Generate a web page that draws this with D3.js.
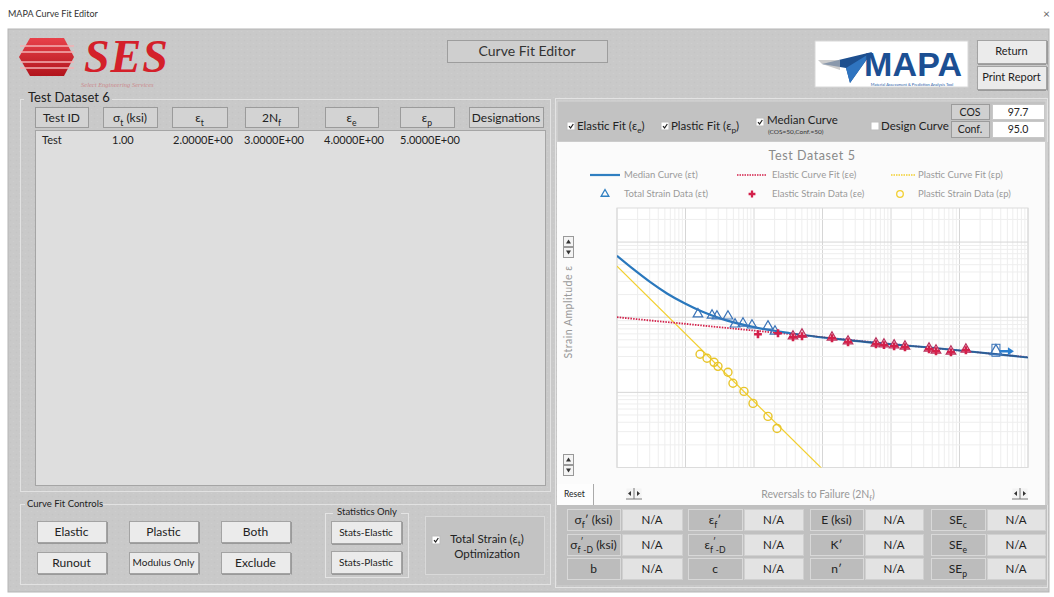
<!DOCTYPE html>
<html><head><meta charset="utf-8">
<script src="https://cdn.jsdelivr.net/npm/d3@7"></script>
<style>html,body{margin:0;padding:0;background:#fff;overflow:hidden}svg{display:block}</style>
</head><body>
<script>
// ---------- DATA ----------
const windowTitle = "MAPA Curve Fit Editor";
const chartTitle = "Test Dataset 5";
const tableTitle = "Test Dataset 6";
const tableHeaders = [["Test ID"],["σ",["t","sub"]," (ksi)"],["ε",["t","sub"]],["2N",["f","sub"]],["ε",["e","sub"]],["ε",["p","sub"]],["Designations"]];
const tableRow = ["Test","1.00","2.0000E+00","3.0000E+00","4.0000E+00","5.0000E+00",""];
// total strain data (triangles)
const totalX = [152,244,288,417,528,691,935,1600,2026,3710,5020,13760,23600,60400,79000,111000,160000,359000,454000,750000,1240000];
const totalY = [1.10e-3,1.06e-3,1.03e-3,1.03e-3,8.07e-4,8.3e-4,7.82e-4,7.59e-4,6.5e-4,5.58e-4,5.93e-4,5.41e-4,4.79e-4,4.5e-4,4.37e-4,4.24e-4,4.1e-4,3.86e-4,3.63e-4,3.52e-4,3.74e-4];
// elastic strain data (plus)
const elasticX = [1143,2240,3710,5020,13760,23600,60400,79000,111000,160000,359000,454000,750000,1240000];
const elasticY = [5.93e-4,6.12e-4,5.41e-4,5.58e-4,5.25e-4,4.64e-4,4.37e-4,4.24e-4,4.1e-4,3.98e-4,3.74e-4,3.52e-4,3.41e-4,3.63e-4];
// plastic strain data (circles)
const plasticX = [163,206,261,298,417,493,714,967,1600,2168];
const plasticY = [3.21e-4,2.84e-4,2.51e-4,2.22e-4,1.85e-4,1.32e-4,1.03e-4,7.13e-5,4.79e-5,3.31e-5];
// runout
const runoutX = [3.52e6];
const runoutY = [3.52e-4];
// fitted curves
const medianX = [10,17.7,30.3,53.7,98.4,174,319,1000,3356,25200,726000,1e7];
const medianY = [6.56e-3,4.29e-3,2.95e-3,2.07e-3,1.52e-3,1.19e-3,9.66e-4,7.38e-4,6.12e-4,4.91e-4,3.72e-4,2.91e-4];
const elasticFitX = [10,1e7];
const elasticFitY = [1.0e-3,2.93e-4];
const plasticFitX = [10,1e4];
const plasticFitY = [4.79e-3,9.5e-6];
// parameter table
const paramLabels = [
  [["σ"],["f","sub"],["′"]," (ksi)"],
  [["ε"],["f","sub"],["′"]],
  ["E (ksi)"],
  ["SE",["c","sub"]],
  [["σ"],["f","sub"],["′","sup"],["-D","sub"]," (ksi)"],
  [["ε"],["f","sub"],["′","sup"],["-D","sub"]],
  ["K′"],
  ["SE",["e","sub"]],
  ["b"],["c"],["n′"],["SE",["p","sub"]]
];
const paramValues = ["N/A","N/A","N/A","N/A","N/A","N/A","N/A","N/A","N/A","N/A","N/A","N/A"];
const controlButtons = [["Elastic","Plastic","Both"],["Runout","Modulus Only","Exclude"]];
const statsButtons = ["Stats-Elastic","Stats-Plastic"];
const cosValue = "97.7", confValue = "95.0";

// ---------- HELPERS ----------
const FONT = "Lato, 'Open Sans', sans-serif";
const svg = d3.select("body").append("svg").attr("width",1054).attr("height",597)
  .style("font-family",FONT);

function rich(g, parts, x, y, size, color, anchor){
  const t = g.append("text").attr("x",x).attr("y",y).attr("font-size",size)
    .attr("fill",color||"#222").attr("text-anchor",anchor||"start");
  let shift = 0;
  parts.forEach(p=>{
    let txt, kind=null;
    if (Array.isArray(p)) { txt=p[0]; kind=p[1]||null; } else txt=p;
    const ts = t.append("tspan").text(txt);
    let target = 0, fs = size;
    if (kind==="sub"){ target = size*0.3; fs=size*0.72; }
    if (kind==="sup"){ target = -size*0.35; fs=size*0.72; }
    ts.attr("dy", target-shift).attr("font-size",fs);
    shift = target;
  });
  return t;
}
function box(g,x,y,w,h,fill,stroke,sw){
  return g.append("rect").attr("x",x).attr("y",y).attr("width",w).attr("height",h)
    .attr("fill",fill).attr("stroke",stroke||"none").attr("stroke-width",sw||1);
}
function button(g,x,y,w,h,label,size,fill){
  box(g,x+0.5,y+0.5,w,h,fill||"#ebebeb","#a3a3a3");
  g.append("line").attr("x1",x+1).attr("x2",x+w).attr("y1",y+h+1.5).attr("y2",y+h+1.5).attr("stroke","#9a9a9a");
  g.append("line").attr("x1",x+w+1.5).attr("x2",x+w+1.5).attr("y1",y+1).attr("y2",y+h+1.5).attr("stroke","#9a9a9a");
  g.append("text").attr("x",x+w/2).attr("y",y+h/2+size*0.36).attr("text-anchor","middle")
    .attr("font-size",size).attr("fill","#222").text(label);
}
function checkbox(g,x,y,checked){
  box(g,x,y,8,8,"#fff","#bdbdbd");
  if (checked) g.append("path").attr("d",`M${x+2},${y+4.2} L${x+3.6},${y+6} L${x+6.3},${y+2}`)
    .attr("fill","none").attr("stroke","#222").attr("stroke-width",1.2);
}

// ---------- WINDOW ----------
svg.append("text").attr("x",8).attr("y",17).attr("font-size",9).attr("fill","#333").text(windowTitle);
svg.append("text").attr("x",1043).attr("y",18).attr("font-size",12).attr("fill","#666").text("×");

// textured gray panel
const defs = svg.append("defs");
const pat = defs.append("pattern").attr("id","tex").attr("width",6).attr("height",6).attr("patternUnits","userSpaceOnUse");
pat.append("rect").attr("width",6).attr("height",6).attr("fill","#c9c9c9");
pat.append("circle").attr("cx",1.5).attr("cy",1.5).attr("r",0.8).attr("fill","#cecece");
pat.append("circle").attr("cx",4.5).attr("cy",4.5).attr("r",0.8).attr("fill","#c4c4c4");
box(svg,8,29,1041,563,"url(#tex)","#b5b5b5");

// ---------- SES LOGO ----------
const logo = svg.append("g");
const hex = [[30,38],[64,38],[74,57],[64,76],[30,76],[19,57]];
const rg = defs.append("linearGradient").attr("id","redg").attr("x1",0).attr("y1",0).attr("x2",0).attr("y2",1);
rg.append("stop").attr("offset","0").attr("stop-color","#e8414a");
rg.append("stop").attr("offset","1").attr("stop-color","#b1141c");
logo.append("path").attr("d","M"+hex.map(p=>p.join(",")).join("L")+"Z").attr("fill","url(#redg)");
[46,52,62,68].forEach(yy=>logo.append("line").attr("x1",20).attr("x2",74).attr("y1",yy).attr("y2",yy).attr("stroke","#f3b0b3").attr("stroke-width",1.3));
logo.append("text").attr("x",84).attr("y",72).attr("font-family","'Liberation Serif', serif").attr("font-style","italic")
  .attr("font-weight","bold").attr("font-size",46).attr("fill","#d4202a").attr("letter-spacing",1).text("SES");
logo.append("text").attr("x",81).attr("y",87).attr("font-family","'Liberation Serif', serif").attr("font-style","italic")
  .attr("font-size",6.5).attr("fill","#c98a8d").text("Select Engineering Services");

// Curve Fit Editor title box
box(svg,447.5,40.5,160,22,"#cfcfcf","#9d9d9d");
svg.append("text").attr("x",527).attr("y",56).attr("text-anchor","middle").attr("font-size",14).attr("fill","#333").text("Curve Fit Editor");

// MAPA logo
const ml = svg.append("g");
box(ml,815,41,153,46,"#fff","#d8d8d8");
ml.append("path").attr("d","M822,64 L872,52 L850,83 L846,68 Z").attr("fill","#1d4f8f");
ml.append("path").attr("d","M846,68 L872,52 L850,83 Z").attr("fill","#2f74c0");
ml.append("path").attr("d","M818,60 L840,60 L840,70 L822,64 Z").attr("fill","#b8b8b8").attr("opacity",0.7);
ml.append("text").attr("x",864).attr("y",76).attr("font-family","'Liberation Sans', Arial, sans-serif").attr("font-weight","bold")
  .attr("font-size",34).attr("fill","#1c4f93").attr("textLength",98).text("MAPA");
ml.append("text").attr("x",912).attr("y",85.5).attr("text-anchor","middle").attr("font-size",4).attr("fill","#2a5ea8")
  .text("Material Assessment & Prediction Analysis Tool");

button(svg,977,40,69,23,"Return",11);
button(svg,977,66,69,23,"Print Report",11);

// ---------- LEFT TABLE GROUP ----------
const lg = svg.append("g");
box(lg,20.5,99.5,530,392,"none","#e2e2e2");
box(lg,24,92,88,12,"#c9c9c9");
lg.append("text").attr("x",28).attr("y",102).attr("font-size",13).attr("fill","#222").text(tableTitle);
const hdrX = [35,103,172,245,325,400,469];
const hdrW = [53,54,55,53,53,54,74];
tableHeaders.forEach((h,i)=>{
  box(lg,hdrX[i]+0.5,107.5,hdrW[i],20,"#d3d3d3","#9b9b9b");
  rich(lg,h,hdrX[i]+hdrW[i]/2,122,12,"#222","middle");
});
box(lg,35.5,130.5,510,355,"#dedede","#a5a5a5");
const cellX = [42,112,173,244,324,400,470];
tableRow.forEach((v,i)=>lg.append("text").attr("x",cellX[i]).attr("y",144).attr("font-size",11).attr("fill","#222").text(v));

// ---------- CURVE FIT CONTROLS ----------
const cg = svg.append("g");
box(cg,20.5,504.5,530,80,"none","#e2e2e2");
box(cg,25,498,78,12,"#c9c9c9");
cg.append("text").attr("x",27).attr("y",507).attr("font-size",9.5).attr("fill","#222").text("Curve Fit Controls");
const cbX = [37,129,221];
controlButtons.forEach((row,r)=>row.forEach((lab,c)=>{
  button(cg,cbX[c],r===0?521:552,69,21,lab,lab.length>10?10:12);
}));
box(cg,325.5,513.5,83,64,"none","#e4e4e4");
box(cg,333,507,68,10,"#c9c9c9");
cg.append("text").attr("x",367).attr("y",515).attr("text-anchor","middle").attr("font-size",9.5).attr("fill","#222").text("Statistics Only");
statsButtons.forEach((lab,i)=>button(cg,331,i===0?521:551,70,22,lab,10));
box(cg,425.5,516.5,119,58,"#c3c3c3","#d9d9d9");
checkbox(cg,432,536,true);
rich(cg,["Total Strain (ε",["t","sub"],")"],487,543,11.5,"#222","middle");
cg.append("text").attr("x",487).attr("y",558).attr("text-anchor","middle").attr("font-size",11.5).attr("fill","#222").text("Optimization");

// ---------- RIGHT PANEL ----------
const rp = svg.append("g");
box(rp,555.5,98.5,492,489,"none","#e3e3e3");
box(rp,557,101,489,41,"#c2c2c2","#d6d6d6");
checkbox(rp,567,122,true);
rich(rp,["Elastic Fit (ε",["e","sub"],")"],577,130,11.5,"#222");
checkbox(rp,661,122,true);
rich(rp,["Plastic Fit (ε",["p","sub"],")"],671,130,11.5,"#222");
checkbox(rp,756,118,true);
rp.append("text").attr("x",767).attr("y",124).attr("font-size",11.5).attr("fill","#222").text("Median Curve");
rp.append("text").attr("x",768).attr("y",134).attr("font-size",6.5).attr("fill","#333").text("(COS=50,Conf.=50)");
checkbox(rp,871,122,false);
rp.append("text").attr("x",881).attr("y",130).attr("font-size",11.5).attr("fill","#222").text("Design Curve");
box(rp,951.5,104.5,38,15,"#d0d0d0","#9b9b9b");
rp.append("text").attr("x",970).attr("y",116).attr("text-anchor","middle").attr("font-size",10.5).attr("fill","#222").text("COS");
box(rp,992.5,104.5,52,15,"#fff","#c8c8c8");
rp.append("text").attr("x",1018).attr("y",116).attr("text-anchor","middle").attr("font-size",10.5).attr("fill","#222").text(cosValue);
box(rp,951.5,121.5,38,16,"#d0d0d0","#9b9b9b");
rp.append("text").attr("x",970).attr("y",133).attr("text-anchor","middle").attr("font-size",10.5).attr("fill","#222").text("Conf.");
box(rp,992.5,121.5,52,16,"#fff","#c8c8c8");
rp.append("text").attr("x",1018).attr("y",133).attr("text-anchor","middle").attr("font-size",10.5).attr("fill","#222").text(confValue);

// chart background
box(rp,557,142,488,363,"#fbfbfb","none");
box(rp,1045,142,3,363,"#d0d0d0");

// chart title & legend
const GRAY="#9a9a9a";
rp.append("text").attr("x",812).attr("y",160).attr("text-anchor","middle").attr("font-size",12.5).attr("fill","#8a8a8a")
  .attr("letter-spacing",0.6).text(chartTitle);
const BLUE="#2f7fc1", RED="#d3204a", YEL="#f2cf2f";
rp.append("line").attr("x1",590).attr("x2",620).attr("y1",175).attr("y2",175).attr("stroke",BLUE).attr("stroke-width",2.2);
rich(rp,["Median Curve (εt)"],624,178,9.5,GRAY);
rp.append("line").attr("x1",737).attr("x2",767).attr("y1",175).attr("y2",175).attr("stroke",RED).attr("stroke-width",1.5).attr("stroke-dasharray","1.5,1");
rich(rp,["Elastic Curve Fit (εe)"],772,178,9.5,GRAY);
rp.append("line").attr("x1",891).attr("x2",915).attr("y1",175).attr("y2",175).attr("stroke",YEL).attr("stroke-width",1.3).attr("stroke-dasharray","1.5,1");
rich(rp,["Plastic Curve Fit (εp)"],918,178,9.5,GRAY);
rp.append("path").attr("d",d3.symbol(d3.symbolTriangle,26)()).attr("transform","translate(605,194)").attr("fill","none").attr("stroke",BLUE).attr("stroke-width",1.3);
rich(rp,["Total Strain Data (εt)"],624,197,9.5,GRAY);
rp.append("path").attr("d",d3.symbol(d3.symbolCross,26)()).attr("transform","translate(752,194)").attr("fill",RED);
rich(rp,["Elastic Strain Data (εe)"],772,197,9.5,GRAY);
rp.append("circle").attr("cx",900).attr("cy",194).attr("r",3.3).attr("fill","none").attr("stroke",YEL).attr("stroke-width",1.3);
rich(rp,["Plastic Strain Data (εp)"],918,197,9.5,GRAY);

// y label & scroll buttons
rp.append("text").attr("transform","translate(572,312) rotate(-90)").attr("text-anchor","middle").attr("font-size",10.5)
  .attr("fill","#999").attr("letter-spacing",0.5).text("Strain Amplitude ε");
function vscroll(y){
  box(rp,563.5,y+0.5,10,10,"#f4f4f4","#999");box(rp,563.5,y+11.5,10,10,"#f4f4f4","#999");
  rp.append("path").attr("d",`M${566},${y+7.5} L${568.5},${y+3.5} L${571},${y+7.5}Z`).attr("fill","#333");
  rp.append("path").attr("d",`M${566},${y+14.5} L${568.5},${y+18.5} L${571},${y+14.5}Z`).attr("fill","#333");
}
vscroll(236); vscroll(454);
function hscroll(x,y){
  box(rp,x+0.5,y+0.5,7,10,"#f4f4f4","none");box(rp,x+8.5,y+0.5,7,10,"#f4f4f4","none");
  rp.append("line").attr("x1",x).attr("x2",x+16).attr("y1",y+11).attr("y2",y+11).attr("stroke","#777");
  rp.append("line").attr("x1",x+8).attr("x2",x+8).attr("y1",y).attr("y2",y+11).attr("stroke","#777");
  rp.append("path").attr("d",`M${x+5},${y+3} L${x+2},${y+5.5} L${x+5},${y+8}Z`).attr("fill","#333");
  rp.append("path").attr("d",`M${x+11},${y+3} L${x+14},${y+5.5} L${x+11},${y+8}Z`).attr("fill","#333");
}
hscroll(626,488); hscroll(1012,488);
box(rp,557,484,36,21,"#fdfdfd","none");
rp.append("line").attr("x1",593.5).attr("x2",593.5).attr("y1",484).attr("y2",505).attr("stroke","#aaa");
rp.append("text").attr("x",564).attr("y",497).attr("font-size",8.5).attr("fill","#222").text("Reset");
rich(rp,["Reversals to Failure (2N",["f","sub"],")"],818,498,10.5,"#999","middle");

// ---------- PLOT ----------
const x = d3.scaleLog().domain([10,1e7]).range([617,1028]);
const y = d3.scaleLog().domain([1e-5,0.0284]).range([467.5,208]);
const plot = rp.append("g");
box(plot,617,208,411,259.5,"#fff","none");
const xt = [], yt = [];
for (let e=1;e<7;e++) for (let m=1;m<10;m++) xt.push(m*Math.pow(10,e));
xt.push(1e7);
for (let e=-5;e<-1;e++) for (let m=1;m<10;m++){ const v=m*Math.pow(10,e); if (v<=0.0284) yt.push(v); }
const isMajor = v => Math.abs(Math.log10(v)-Math.round(Math.log10(v)))<1e-6;
plot.selectAll(".gx").data(xt).join("line").attr("x1",d=>x(d)).attr("x2",d=>x(d)).attr("y1",208).attr("y2",467.5)
  .attr("stroke",d=>isMajor(d)?"#d6d6d6":"#eeeeee").attr("stroke-width",1);
plot.selectAll(".gy").data(yt).join("line").attr("y1",d=>y(d)).attr("y2",d=>y(d)).attr("x1",617).attr("x2",1028)
  .attr("stroke",d=>isMajor(d)?"#d6d6d6":"#eeeeee").attr("stroke-width",1);
box(plot,617,208,411,259.5,"none","#dcdcdc");

const clip = defs.append("clipPath").attr("id","pc");
clip.append("rect").attr("x",617).attr("y",208).attr("width",411).attr("height",259.5);
const pg = plot.append("g").attr("clip-path","url(#pc)");
const ln = d3.line().x(d=>x(d[0])).y(d=>y(d[1]));
const lnSmooth = d3.line().x(d=>x(d[0])).y(d=>y(d[1])).curve(d3.curveMonotoneX);
const zip = (a,b)=>a.map((v,i)=>[v,b[i]]);
pg.append("path").attr("d",ln(zip(plasticFitX,plasticFitY))).attr("fill","none").attr("stroke",YEL).attr("stroke-width",1.2);
pg.append("path").attr("d",ln(zip(elasticFitX,elasticFitY))).attr("fill","none").attr("stroke",RED).attr("stroke-width",1.8).attr("stroke-dasharray","1.5,1.2");
pg.append("path").attr("d",lnSmooth(zip(medianX,medianY))).attr("fill","none").attr("stroke","#2a78bd").attr("stroke-width",2.2);
pg.append("path").attr("d",lnSmooth(zip(medianX.slice(8),medianY.slice(8)))).attr("fill","none").attr("stroke","#3a3a5a").attr("stroke-width",1.2).attr("opacity",0.6);

pg.selectAll(".circ").data(zip(plasticX,plasticY)).join("circle").attr("cx",d=>x(d[0])).attr("cy",d=>y(d[1])).attr("r",4)
  .attr("fill","none").attr("stroke","#e8c52a").attr("stroke-width",1.4);
const triPath = d3.symbol(d3.symbolTriangle,40)();
pg.selectAll(".tri").data(zip(totalX,totalY)).join("path").attr("d",triPath)
  .attr("transform",d=>`translate(${x(d[0])},${y(d[1])})`).attr("fill",d=>d[0]>3000?"#f3c9d4":"none")
  .attr("stroke",d=>d[0]>3000?"#b8325e":"#3b74b8").attr("stroke-width",1.2);
pg.selectAll(".plus").data(zip(elasticX,elasticY)).join("path").attr("d",d3.symbol(d3.symbolCross,34)())
  .attr("transform",d=>`translate(${x(d[0])},${y(d[1])})`).attr("fill",RED);
// runout
zip(runoutX,runoutY).forEach(d=>{
  const cx=x(d[0]), cy=y(d[1]);
  pg.append("rect").attr("x",cx-5).attr("y",cy-7).attr("width",8).attr("height",12).attr("fill","none").attr("stroke","#3b74b8").attr("stroke-width",1);
  pg.append("path").attr("d",d3.symbol(d3.symbolTriangle,60)()).attr("transform",`translate(${cx-1},${cy})`).attr("fill","none").attr("stroke","#3b74b8").attr("stroke-width",1.3);
  pg.append("line").attr("x1",cx+3).attr("x2",cx+12).attr("y1",cy).attr("y2",cy).attr("stroke","#2a7fd0").attr("stroke-width",2.5);
  pg.append("path").attr("d",`M${cx+11},${cy-4} L${cx+17},${cy} L${cx+11},${cy+4}Z`).attr("fill","#2a7fd0");
});

// ---------- PARAMETER TABLE ----------
const pt = svg.append("g");
box(pt,557,505,490,80,"#c0c0c0","none");
const pcolL = [[567,53],[688,54],[810,53],[931,54]];
const pcolV = [[622,60],[744,59],[865,58],[987,58]];
const prowY = [509,534,558];
paramLabels.forEach((lab,i)=>{
  const r = Math.floor(i/4), c = i%4;
  box(pt,pcolL[c][0]+0.5,prowY[r]+0.5,pcolL[c][1],21,"#bcbcbc","#d8d8d8");
  rich(pt,lab,pcolL[c][0]+pcolL[c][1]/2,prowY[r]+15,12,"#222","middle");
  box(pt,pcolV[c][0]+0.5,prowY[r]+0.5,pcolV[c][1],21,"#e3e3e3","#d0d0d0");
  pt.append("text").attr("x",pcolV[c][0]+pcolV[c][1]/2).attr("y",prowY[r]+15).attr("text-anchor","middle")
    .attr("font-size",11.5).attr("fill","#222").text(paramValues[i]);
});
</script>
</body></html>
